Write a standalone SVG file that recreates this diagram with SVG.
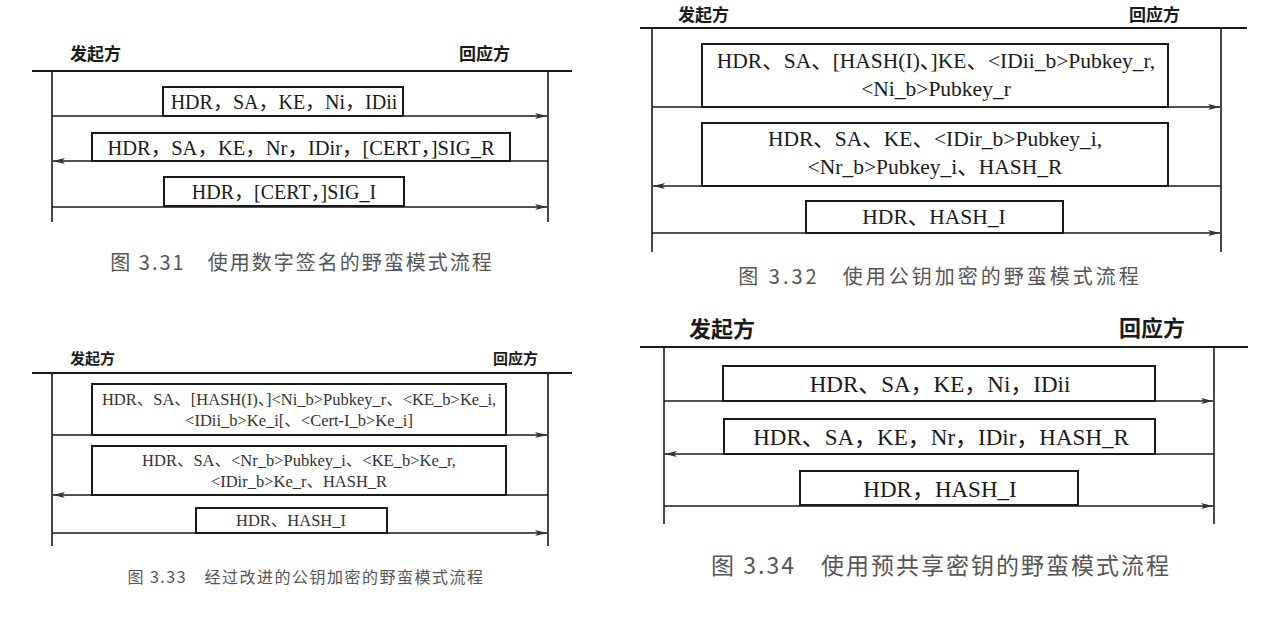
<svg xmlns="http://www.w3.org/2000/svg" width="1276" height="622" viewBox="0 0 1276 622">
<style>
  .bg { fill: #ffffff; }
  .rule { stroke: #1a1a1a; stroke-width: 2; fill: none; }
  .life { stroke: #1a1a1a; stroke-width: 1.6; fill: none; }
  .box { fill: none; stroke: #1a1a1a; stroke-width: 2; }
  .msg { stroke: #1a1a1a; stroke-width: 1.4; fill: none; marker-end: url(#ah); }
  .t { font-family: "Liberation Serif", "Noto Sans CJK SC", serif; fill: #1a1a1a; text-anchor: middle; }
  .hd { font-family: "Noto Sans CJK SC", "Liberation Serif", sans-serif; fill: #1a1a1a; font-weight: 600; }
  .cap { font-family: "Noto Sans CJK SC", "Liberation Serif", sans-serif; fill: #555; text-anchor: middle; }
  .small { font-size: 16.5px; fill: #333; }
</style>
<defs>
  <marker id="ah" viewBox="0 0 12 6" markerWidth="12" markerHeight="6" refX="12" refY="3" orient="auto" markerUnits="userSpaceOnUse">
    <path d="M0,0 L12,3 L0,6 L3,3 z" fill="#333"/>
  </marker>
</defs>
<rect class="bg" x="0" y="0" width="1276" height="622"/>

<!-- Figure 3.31 -->
<g id="fig331">
  <g id="fig331-initiator"><text class="hd" x="70" y="60" font-size="17">发起方</text></g>
  <g id="fig331-responder"><text class="hd" x="459" y="60" font-size="17" font-weight="400">回应方</text></g>
  <line class="rule" x1="32" y1="71" x2="572" y2="71"/>
  <line class="life" x1="52" y1="71" x2="52" y2="222"/>
  <line class="life" x1="548" y1="71" x2="548" y2="222"/>
  <g id="fig331-m1"><rect class="box" x="163" y="87" width="240" height="29"/><text class="t" x="284" y="109" font-size="20">HDR，SA，KE，Ni，IDii</text></g>
  <g id="fig331-m2"><rect class="box" x="92" y="133" width="418" height="28"/><text class="t" x="301" y="155" font-size="20.5">HDR，SA，KE，Nr，IDir，[CERT，]SIG_R</text></g>
  <g id="fig331-m3"><rect class="box" x="164" y="177" width="240" height="29"/><text class="t" x="284" y="199" font-size="20">HDR，[CERT，]SIG_I</text></g>
  <text class="cap" x="302" y="270" font-size="20" letter-spacing="2">图 3.31　使用数字签名的野蛮模式流程</text>
</g>

<!-- Figure 3.32 -->
<g id="fig332">
  <g id="fig332-initiator"><text class="hd" x="678" y="21" font-size="17">发起方</text></g>
  <g id="fig332-responder"><text class="hd" x="1129" y="21" font-size="17" font-weight="400" fill="#444">回应方</text></g>
  <line class="rule" x1="640" y1="28" x2="1247" y2="28"/>
  <line class="life" x1="652" y1="28" x2="652" y2="252"/>
  <line class="life" x1="1221" y1="28" x2="1221" y2="252"/>
  <g id="fig332-m1"><rect class="box" x="702" y="44" width="466" height="63"/>
    <text class="t" x="936" y="68" font-size="21.5">HDR、SA、[HASH(I)、]KE、&lt;IDii_b&gt;Pubkey_r,</text>
    <text class="t" x="936" y="96" font-size="21.5">&lt;Ni_b&gt;Pubkey_r</text></g>
  <g id="fig332-m2"><rect class="box" x="702" y="123" width="466" height="63"/>
    <text class="t" x="935" y="146" font-size="21.5">HDR、SA、KE、&lt;IDir_b&gt;Pubkey_i,</text>
    <text class="t" x="935" y="174" font-size="21.5">&lt;Nr_b&gt;Pubkey_i、HASH_R</text></g>
  <g id="fig332-m3"><rect class="box" x="806" y="201" width="257" height="32"/><text class="t" x="934" y="224" font-size="21.5">HDR、HASH_I</text></g>
  <text class="cap" x="940" y="284" font-size="20" letter-spacing="3" fill="#666">图 3.32　使用公钥加密的野蛮模式流程</text>
</g>

<!-- Figure 3.33 -->
<g id="fig333">
  <g id="fig333-initiator"><text class="hd" x="70" y="364" font-size="15">发起方</text></g>
  <g id="fig333-responder"><text class="hd" x="493" y="364" font-size="15" font-weight="400">回应方</text></g>
  <line class="rule" x1="32" y1="373" x2="572" y2="373"/>
  <line class="life" x1="52" y1="373" x2="52" y2="546"/>
  <line class="life" x1="548" y1="373" x2="548" y2="546"/>
  <g id="fig333-m1"><rect class="box" x="92" y="384" width="414" height="51"/>
    <text class="t small" x="299" y="405">HDR、SA、[HASH(I)、]&lt;Ni_b&gt;Pubkey_r、&lt;KE_b&gt;Ke_i,</text>
    <text class="t small" x="299" y="426">&lt;IDii_b&gt;Ke_i[、&lt;Cert-I_b&gt;Ke_i]</text></g>
  <g id="fig333-m2"><rect class="box" x="92" y="446" width="414" height="49"/>
    <text class="t small" x="299" y="466">HDR、SA、&lt;Nr_b&gt;Pubkey_i、&lt;KE_b&gt;Ke_r,</text>
    <text class="t small" x="299" y="487">&lt;IDir_b&gt;Ke_r、HASH_R</text></g>
  <g id="fig333-m3"><rect class="box" x="196" y="508" width="191" height="25"/><text class="t small" x="291" y="526">HDR、HASH_I</text></g>
  <text class="cap" x="306" y="583" font-size="16" letter-spacing="1.5" fill="#666">图 3.33　经过改进的公钥加密的野蛮模式流程</text>
</g>

<!-- Figure 3.34 -->
<g id="fig334">
  <g id="fig334-initiator"><text class="hd" x="689" y="337" font-size="22" font-weight="500">发起方</text></g>
  <g id="fig334-responder"><text class="hd" x="1119" y="336" font-size="22" font-weight="400">回应方</text></g>
  <line class="rule" x1="640" y1="347" x2="1248" y2="347"/>
  <line class="life" x1="664" y1="347" x2="664" y2="524"/>
  <line class="life" x1="1214" y1="347" x2="1214" y2="524"/>
  <g id="fig334-m1"><rect class="box" x="723" y="366" width="432" height="35"/><text class="t" x="940" y="392" font-size="23">HDR、SA，KE，Ni，IDii</text></g>
  <g id="fig334-m2"><rect class="box" x="724" y="419" width="431" height="35"/><text class="t" x="941" y="445" font-size="23">HDR、SA，KE，Nr，IDir，HASH_R</text></g>
  <g id="fig334-m3"><rect class="box" x="800" y="471" width="278" height="34"/><text class="t" x="940" y="497" font-size="23">HDR，HASH_I</text></g>
  <text class="cap" x="941" y="574" font-size="23" letter-spacing="2" fill="#444">图 3.34　使用预共享密钥的野蛮模式流程</text>
</g>

<!-- Connectors -->
<g id="connectors">
  <line class="msg" x1="52" y1="116" x2="547" y2="116"/>
  <line class="msg" x1="548" y1="161" x2="53" y2="161"/>
  <line class="msg" x1="52" y1="207" x2="547" y2="207"/>

  <line class="msg" x1="652" y1="107" x2="1220" y2="107"/>
  <line class="msg" x1="1221" y1="186" x2="653" y2="186"/>
  <line class="msg" x1="652" y1="233" x2="1220" y2="233"/>

  <line class="msg" x1="52" y1="435" x2="547" y2="435"/>
  <line class="msg" x1="548" y1="495" x2="53" y2="495"/>
  <line class="msg" x1="52" y1="533" x2="547" y2="533"/>

  <line class="msg" x1="664" y1="401" x2="1213" y2="401"/>
  <line class="msg" x1="1214" y1="454" x2="665" y2="454"/>
  <line class="msg" x1="664" y1="506" x2="1213" y2="506"/>
</g>
</svg>
